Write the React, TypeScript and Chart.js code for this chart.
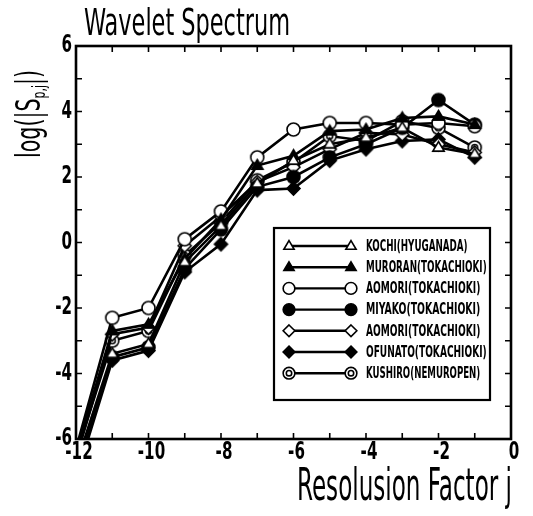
import React, { useEffect, useRef } from "react";
import { Chart, registerables } from "chart.js";

Chart.register(...registerables);

const xValues = [-12, -11, -10, -9, -8, -7, -6, -5, -4, -3, -2, -1];
const seriesNames = [
  "KOCHI(HYUGANADA)",
  "MURORAN(TOKACHIOKI)",
  "AOMORI(TOKACHIOKI)",
  "MIYAKO(TOKACHIOKI)",
  "AOMORI(TOKACHIOKI)",
  "OFUNATO(TOKACHIOKI)",
  "KUSHIRO(NEMUROPEN)",
];
const kochi = [-6.8, -3.4, -3.1, -0.6, 0.5, 1.8, 2.5, 3.0, 3.2, 3.5, 2.9, 2.7];
const muroran = [-6.4, -2.7, -2.5, -0.5, 0.7, 2.35, 2.65, 3.4, 3.45, 3.8, 3.85, 3.6];
const aomori1 = [-6.3, -2.3, -2.0, 0.1, 0.95, 2.6, 3.45, 3.65, 3.65, 3.6, 3.65, 3.55];
const miyako = [-7.0, -3.5, -3.2, -0.8, 0.4, 1.7, 2.0, 2.6, 3.0, 3.5, 4.35, 3.6];
const aomori2 = [-6.6, -2.8, -2.6, -0.1, 0.8, 1.85, 2.3, 2.85, 3.35, 3.3, 3.0, 2.75];
const ofunato = [-7.2, -3.6, -3.3, -0.9, -0.05, 1.6, 1.65, 2.5, 2.85, 3.1, 3.15, 2.6];
const kushiro = [-6.5, -3.0, -2.7, -0.4, 0.6, 1.9, 2.45, 3.25, 3.1, 3.7, 3.5, 2.9];
const seriesValues = [kochi, muroran, aomori1, miyako, aomori2, ofunato, kushiro];
const markerKinds = ["triOpen", "triFill", "circOpen", "circFill", "diaOpen", "diaFill", "dbl"];
const xTicks = [-12, -10, -8, -6, -4, -2, 0];
const yTicks = [-6, -4, -2, 0, 2, 4, 6];

const NARROW = "'Liberation Sans Narrow', 'DejaVu Sans Condensed', 'Liberation Sans', sans-serif";

function drawMarker(ctx: CanvasRenderingContext2D, kind: string, x: number, y: number, k = 1) {
  ctx.save();
  ctx.lineWidth = 1.6;
  ctx.strokeStyle = "#000";
  const filled = kind.endsWith("Fill");
  ctx.fillStyle = filled ? "#000" : "#fff";
  ctx.beginPath();
  if (kind.startsWith("tri")) {
    const r = 6 * k;
    ctx.moveTo(x, y - r);
    ctx.lineTo(x + r * 0.95, y + r * 0.6);
    ctx.lineTo(x - r * 0.95, y + r * 0.6);
    ctx.closePath();
  } else if (kind.startsWith("circ")) {
    ctx.arc(x, y, 6.5 * k, 0, Math.PI * 2);
  } else if (kind.startsWith("dia")) {
    const r = 6.5 * k;
    ctx.moveTo(x, y - r);
    ctx.lineTo(x + r, y);
    ctx.lineTo(x, y + r);
    ctx.lineTo(x - r, y);
    ctx.closePath();
  } else {
    ctx.arc(x, y, 6.5 * k, 0, Math.PI * 2);
    ctx.fill();
    ctx.stroke();
    ctx.beginPath();
    ctx.arc(x, y, 3 * k, 0, Math.PI * 2);
  }
  ctx.fill();
  ctx.stroke();
  ctx.restore();
}

function markerCanvas(kind: string): HTMLCanvasElement {
  const c = document.createElement("canvas");
  c.width = 17;
  c.height = 17;
  const ctx = c.getContext("2d")!;
  drawMarker(ctx, kind, 8.5, 8.5);
  return c;
}

type Part = { text: string; size: number; dy: number };

function drawCondensed(
  ctx: CanvasRenderingContext2D,
  parts: Part[],
  weight: string,
  targetWidth: number
) {
  let total = 0;
  const widths: number[] = [];
  for (const p of parts) {
    ctx.font = `${weight} ${p.size}px ${NARROW}`;
    const w = ctx.measureText(p.text).width;
    widths.push(w);
    total += w;
  }
  const s = targetWidth / total;
  ctx.scale(s, 1);
  let cx = 0;
  parts.forEach((p, i) => {
    ctx.font = `${weight} ${p.size}px ${NARROW}`;
    ctx.fillText(p.text, cx, p.dy);
    cx += widths[i];
  });
}

function drawTickLabel(
  ctx: CanvasRenderingContext2D,
  text: string,
  x: number,
  y: number,
  align: "center" | "right"
) {
  const s = 0.7;
  ctx.save();
  ctx.font = `bold 24px ${NARROW}`;
  const w = ctx.measureText(text).width * s;
  const x0 = align === "center" ? x - w / 2 : x - w;
  ctx.translate(x0, y);
  ctx.scale(s, 1);
  ctx.textBaseline = "middle";
  ctx.textAlign = "left";
  ctx.fillText(text, 0, 0);
  ctx.restore();
}

const framePlugin = {
  id: "frame",
  afterDatasetsDraw(chart: any) {
    const ctx: CanvasRenderingContext2D = chart.ctx;
    const { left, right, top, bottom } = chart.chartArea;
    const xs = chart.scales.x;
    const ys = chart.scales.y;
    ctx.save();
    ctx.strokeStyle = "#000";
    ctx.lineWidth = 1.6;
    ctx.beginPath();
    for (let v = -12; v <= 0; v++) {
      const px = xs.getPixelForValue(v);
      ctx.moveTo(px, bottom);
      ctx.lineTo(px, bottom - 6);
      ctx.moveTo(px, top);
      ctx.lineTo(px, top + 6);
    }
    for (let v = -6; v <= 6; v++) {
      const py = ys.getPixelForValue(v);
      ctx.moveTo(left, py);
      ctx.lineTo(left + 6, py);
      ctx.moveTo(right, py);
      ctx.lineTo(right - 6, py);
    }
    ctx.stroke();
    ctx.lineWidth = 2.6;
    ctx.strokeRect(left, top, right - left, bottom - top);

    // tick labels
    ctx.fillStyle = "#000";
    xTicks.forEach((v) => drawTickLabel(ctx, String(v), xs.getPixelForValue(v) + 3, bottom + 14, "center"));
    yTicks.forEach((v) => drawTickLabel(ctx, String(v), left - 4, ys.getPixelForValue(v), "right"));

    // legend
    const bx = 274, by = 228, bw = 216, bh = 172;
    ctx.fillStyle = "#fff";
    ctx.fillRect(bx, by, bw, bh);
    ctx.lineWidth = 2.2;
    ctx.strokeRect(bx, by, bw, bh);
    seriesNames.forEach((name, i) => {
      const ry = 246 + i * 21.2;
      ctx.lineWidth = 2.4;
      ctx.beginPath();
      ctx.moveTo(289, ry);
      ctx.lineTo(351, ry);
      ctx.stroke();
      drawMarker(ctx, markerKinds[i], 289, ry, 0.9);
      drawMarker(ctx, markerKinds[i], 351, ry, 0.9);
      ctx.save();
      ctx.fillStyle = "#000";
      ctx.textBaseline = "middle";
      ctx.translate(366, ry + 1);
      drawCondensed(ctx, [{ text: name, size: 15, dy: 0 }], "bold", name.length * 6.35);
      ctx.restore();
    });

    // titles
    ctx.fillStyle = "#000";
    ctx.textBaseline = "alphabetic";
    ctx.save();
    ctx.translate(84, 35);
    drawCondensed(ctx, [{ text: "Wavelet Spectrum", size: 38, dy: 0 }], "500", 206);
    ctx.restore();

    ctx.save();
    ctx.translate(297, 500);
    drawCondensed(ctx, [{ text: "Resolusion Factor j", size: 44, dy: 0 }], "normal", 215);
    ctx.restore();

    ctx.save();
    ctx.translate(40, 158);
    ctx.rotate(-Math.PI / 2);
    drawCondensed(
      ctx,
      [
        { text: "log(|S", size: 34, dy: 0 },
        { text: "p,j", size: 18, dy: 5 },
        { text: "|)", size: 34, dy: 0 },
      ],
      "normal",
      88
    );
    ctx.restore();
    ctx.restore();
  },
};

export default function App() {
  const ref = useRef<HTMLCanvasElement | null>(null);
  useEffect(() => {
    if (!ref.current) return;
    const datasets = seriesNames.map((name, i) => ({
      label: name,
      data: xValues.map((x, k) => ({ x, y: seriesValues[i][k] })),
      borderColor: "#000",
      borderWidth: 2.6,
      pointStyle: markerCanvas(markerKinds[i]) as any,
      pointRadius: 6,
      fill: false,
      tension: 0,
      clip: 0,
    }));
    const chart = new Chart(ref.current, {
      type: "line",
      data: { datasets },
      options: {
        animation: false,
        responsive: false,
        layout: { padding: { left: 0, top: 46, right: 22, bottom: 0 } },
        plugins: { legend: { display: false }, title: { display: false }, tooltip: { enabled: false } },
        scales: {
          x: {
            type: "linear",
            min: -12,
            max: 0,
            afterFit: (s: any) => {
              s.height = 77;
            },
            grid: { display: false, drawTicks: false },
            border: { display: false },
            ticks: { display: false, stepSize: 2 },
          },
          y: {
            type: "linear",
            min: -6,
            max: 6,
            afterFit: (s: any) => {
              s.width = 76;
            },
            grid: { display: false, drawTicks: false },
            border: { display: false },
            ticks: { display: false, stepSize: 2 },
          },
        },
      },
      plugins: [framePlugin],
    });
    return () => chart.destroy();
  }, []);
  return (
    <div style={{ position: "fixed", left: 0, top: 0, width: 533, height: 516, background: "#fff" }}>
      <canvas ref={ref} width={533} height={516} style={{ width: 533, height: 516 }} />
    </div>
  );
}
